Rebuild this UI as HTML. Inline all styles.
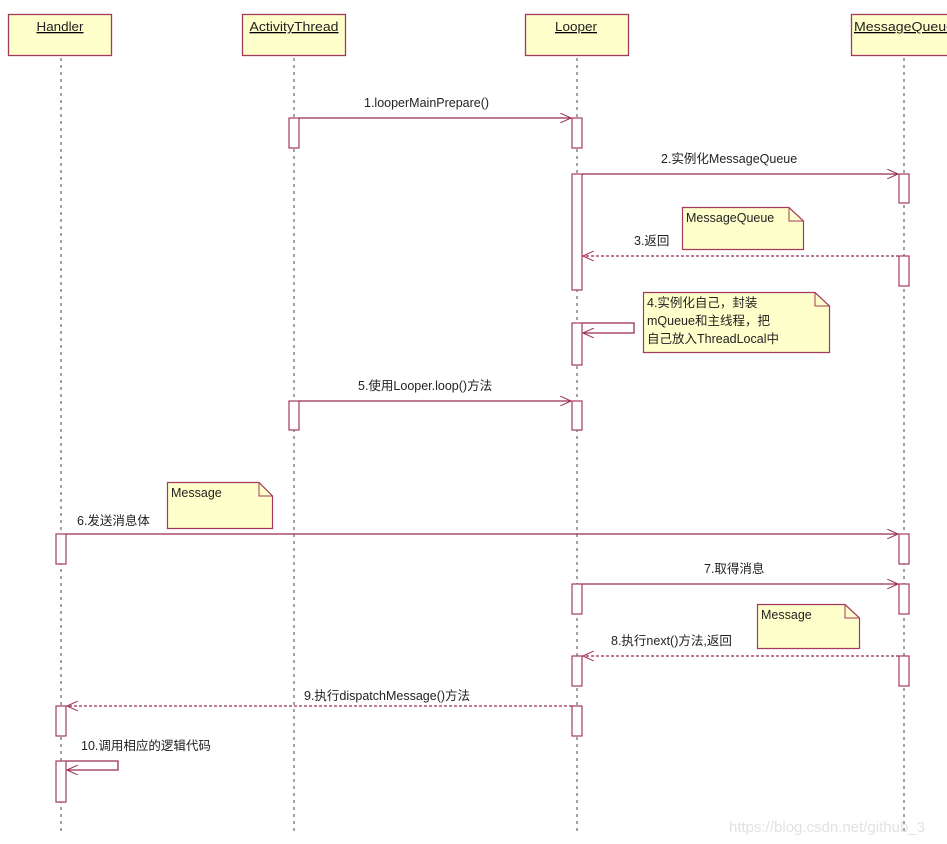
<!DOCTYPE html>
<html><head><meta charset="utf-8">
<style>
html,body{margin:0;padding:0;background:#fff;}
svg{display:block;}
text{font-family:"Liberation Sans","Noto Sans CJK SC",sans-serif;fill:#222;}
</style></head>
<body>
<svg width="947" height="844" viewBox="0 0 947 844" xmlns="http://www.w3.org/2000/svg">
<defs>
<marker id="ah" markerWidth="12" markerHeight="10" refX="11" refY="5" orient="auto" markerUnits="userSpaceOnUse">
<path d="M0,0 L11,5 L0,10" fill="none" stroke="#9b2c55" stroke-width="1"/>
</marker>
</defs>
<g stroke="#666" stroke-width="1.2" stroke-dasharray="3,4">
<line x1="61" y1="58" x2="61" y2="833"/>
<line x1="294" y1="58" x2="294" y2="833"/>
<line x1="577" y1="58" x2="577" y2="833"/>
<line x1="904" y1="58" x2="904" y2="833"/>
</g>
<g fill="#ffffcc" stroke="#a33a5c" stroke-width="1.3">
<rect x="8.5" y="14.5" width="103" height="41"/>
<rect x="242.5" y="14.5" width="103" height="41"/>
<rect x="525.5" y="14.5" width="103" height="41"/>
<rect x="851.5" y="14.5" width="100" height="41"/>
</g>
<g font-size="13" text-decoration="underline" text-anchor="middle">
<text x="60" y="31" textLength="47" lengthAdjust="spacingAndGlyphs">Handler</text>
<text x="294" y="31" textLength="89" lengthAdjust="spacingAndGlyphs">ActivityThread</text>
<text x="576" y="31" textLength="42" lengthAdjust="spacingAndGlyphs">Looper</text>
<text x="854" y="31" text-anchor="start" textLength="100" lengthAdjust="spacingAndGlyphs">MessageQueue</text>
</g>
<!-- notes -->
<g fill="#ffffcc" stroke="#a33a5c" stroke-width="1.2">
<path d="M682.5,207.5 H789 L803.5,221 V249.5 H682.5 Z"/>
<path d="M643.5,292.5 H815 L829.5,306 V352.5 H643.5 Z"/>
<path d="M167.5,482.5 H259 L272.5,496 V528.5 H167.5 Z"/>
<path d="M757.5,604.5 H845 L859.5,618 V648.5 H757.5 Z"/>
</g>
<g fill="none" stroke="#a33a5c" stroke-width="1">
<path d="M789,207.5 V221 H803.5"/>
<path d="M815,292.5 V306 H829.5"/>
<path d="M259,482.5 V496 H272.5"/>
<path d="M845,604.5 V618 H859.5"/>
</g>
<g font-size="12.5">
<text x="686" y="222">MessageQueue</text>
<text x="647" y="307">4.实例化自己，封装</text>
<text x="647" y="325">mQueue和主线程，把</text>
<text x="647" y="343">自己放入ThreadLocal中</text>
<text x="171" y="497">Message</text>
<text x="761" y="619">Message</text>
</g>
<!-- activations -->
<g fill="#fff" stroke="#a33a5c" stroke-width="1.2">
<rect x="289" y="118" width="10" height="30"/>
<rect x="572" y="118" width="10" height="30"/>
<rect x="572" y="174" width="10" height="116"/>
<rect x="899" y="174" width="10" height="29"/>
<rect x="899" y="256" width="10" height="30"/>
<rect x="572" y="323" width="10" height="42"/>
<rect x="289" y="401" width="10" height="29"/>
<rect x="572" y="401" width="10" height="29"/>
<rect x="56" y="534" width="10" height="30"/>
<rect x="899" y="534" width="10" height="30"/>
<rect x="572" y="584" width="10" height="30"/>
<rect x="899" y="584" width="10" height="30"/>
<rect x="572" y="656" width="10" height="30"/>
<rect x="899" y="656" width="10" height="30"/>
<rect x="56" y="706" width="10" height="30"/>
<rect x="572" y="706" width="10" height="30"/>
<rect x="56" y="761" width="10" height="41"/>
</g>
<!-- messages -->
<g stroke="#9b2c55" stroke-width="1.3" fill="none" marker-end="url(#ah)">
<line x1="299" y1="118" x2="571" y2="118"/>
<line x1="582" y1="174" x2="898" y2="174"/>
<line x1="899" y1="256" x2="583" y2="256" stroke-dasharray="3,2"/>
<polyline points="582,323 634,323 634,333 583,333"/>
<line x1="299" y1="401" x2="571" y2="401"/>
<line x1="66" y1="534" x2="898" y2="534"/>
<line x1="582" y1="584" x2="898" y2="584"/>
<line x1="899" y1="656" x2="583" y2="656" stroke-dasharray="3,2"/>
<line x1="572" y1="706" x2="67" y2="706" stroke-dasharray="3,2"/>
<polyline points="66,761 118,761 118,770 67,770"/>
</g>
<g font-size="12.5">
<text x="364" y="107">1.looperMainPrepare()</text>
<text x="661" y="163">2.实例化MessageQueue</text>
<text x="634" y="245">3.返回</text>
<text x="358" y="390">5.使用Looper.loop()方法</text>
<text x="77" y="525">6.发送消息体</text>
<text x="704" y="573">7.取得消息</text>
<text x="611" y="645">8.执行next()方法,返回</text>
<text x="304" y="700">9.执行dispatchMessage()方法</text>
<text x="81" y="750">10.调用相应的逻辑代码</text>
</g>
<text x="729" y="832" font-size="15" style="fill:#e2e2e2">https://blog.csdn.net/github_3</text>
</svg>
</body></html>
